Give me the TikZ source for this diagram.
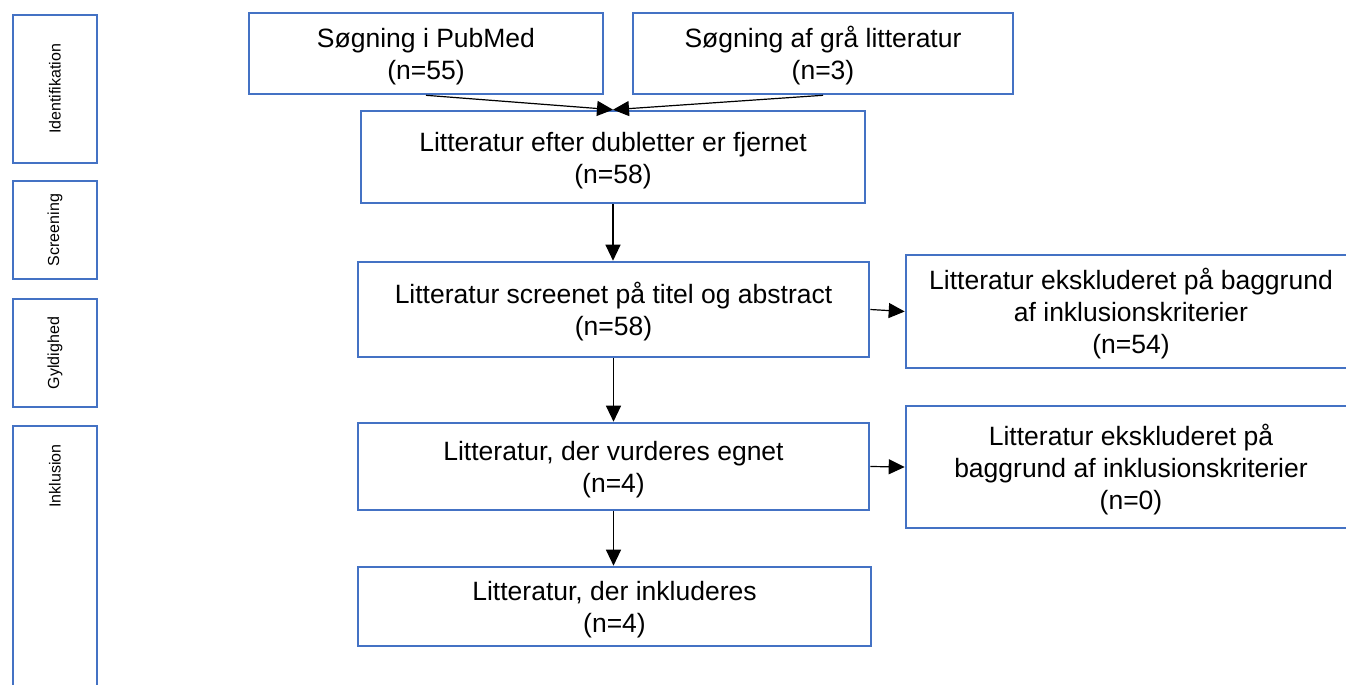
\documentclass[tikz,border=0pt]{standalone}
\usepackage{fontspec}
\setmainfont{Liberation Sans}
\usetikzlibrary{arrows.meta,calc}
\definecolor{boxblue}{RGB}{68,114,196}
% box text, set a little below the geometric centre
\newcommand{\flowtext}[1]{\raisebox{-4pt}[\height][\depth]{\begin{tabular}{@{}c@{}}#1\end{tabular}}}
\begin{document}
\begin{tikzpicture}[x=1pt,y=-1pt,
  flowbox/.style={draw=boxblue,line width=2.6pt,fill=white,inner sep=0pt,
    font=\fontsize{26.5}{32}\selectfont},
  phasebox/.style={draw=boxblue,line width=2.6pt,inner sep=0pt,rotate=90,
    minimum height=84pt,font=\fontsize{16}{19}\selectfont},
  flowarrow/.style={line width=1.2pt,-{Triangle[length=16pt,width=15pt]}}]
\useasboundingbox (0,0) rectangle (1346,685);
\clip (0,0) rectangle (1346,685);

% phase labels on the left
\node[phasebox,minimum width=148pt] (ph1) at (55,89) {Identifikation};
\node[phasebox,minimum width=98pt] (ph2) at (55,230) {Screening};
\node[phasebox,minimum width=108pt] (ph3) at (55,353) {Gyldighed};
\coordinate (ph4a) at (13,426);
\coordinate (ph4b) at (97,720);
\draw[draw=boxblue,line width=2.6pt] (ph4a) rectangle (ph4b);
\node[rotate=90,font=\fontsize{16}{19}\selectfont] (ph4) at (55,476) {Inklusion};

% flow boxes
\node[flowbox,minimum width=354pt,minimum height=81pt] (pub) at (426,53.5)
  {\flowtext{Søgning i PubMed\\(n=55)}};
\node[flowbox,minimum width=380pt,minimum height=81pt] (gra) at (823,53.5)
  {\flowtext{Søgning af grå litteratur\\(n=3)}};
\node[flowbox,minimum width=504pt,minimum height=92pt] (dub) at (613,157)
  {\flowtext{Litteratur efter dubletter er fjernet\\(n=58)}};
\node[flowbox,minimum width=511pt,minimum height=95pt] (scr) at (613.5,309.5)
  {\flowtext{Litteratur screenet på titel og abstract\\(n=58)}};
\node[flowbox,minimum width=450pt,minimum height=113pt] (ex1) at (1131,311.5)
  {\flowtext{Litteratur ekskluderet på baggrund\\af inklusionskriterier\\(n=54)}};
\node[flowbox,minimum width=511pt,minimum height=87pt] (vur) at (613.5,466.5)
  {\flowtext{Litteratur, der vurderes egnet\\(n=4)}};
\node[flowbox,minimum width=450pt,minimum height=122pt] (ex2) at (1131,467)
  {\flowtext{Litteratur ekskluderet på\\baggrund af inklusionskriterier\\(n=0)}};
\node[flowbox,minimum width=513pt,minimum height=79pt] (ink) at (614.5,606.5)
  {\flowtext{Litteratur, der inkluderes\\(n=4)}};

% connectors
\draw[flowarrow] (pub.south) -- (dub.north);
\draw[flowarrow] (gra.south) -- (dub.north);
\draw[flowarrow] (dub.south) -- (dub.south |- scr.north);
\draw[flowarrow] (scr.east) -- (ex1.west);
\draw[flowarrow] (scr.south) -- (scr.south |- vur.north);
\draw[flowarrow] (vur.east) -- (ex2.west);
\draw[flowarrow] (vur.south) -- (vur.south |- ink.north);
\end{tikzpicture}
\end{document}
